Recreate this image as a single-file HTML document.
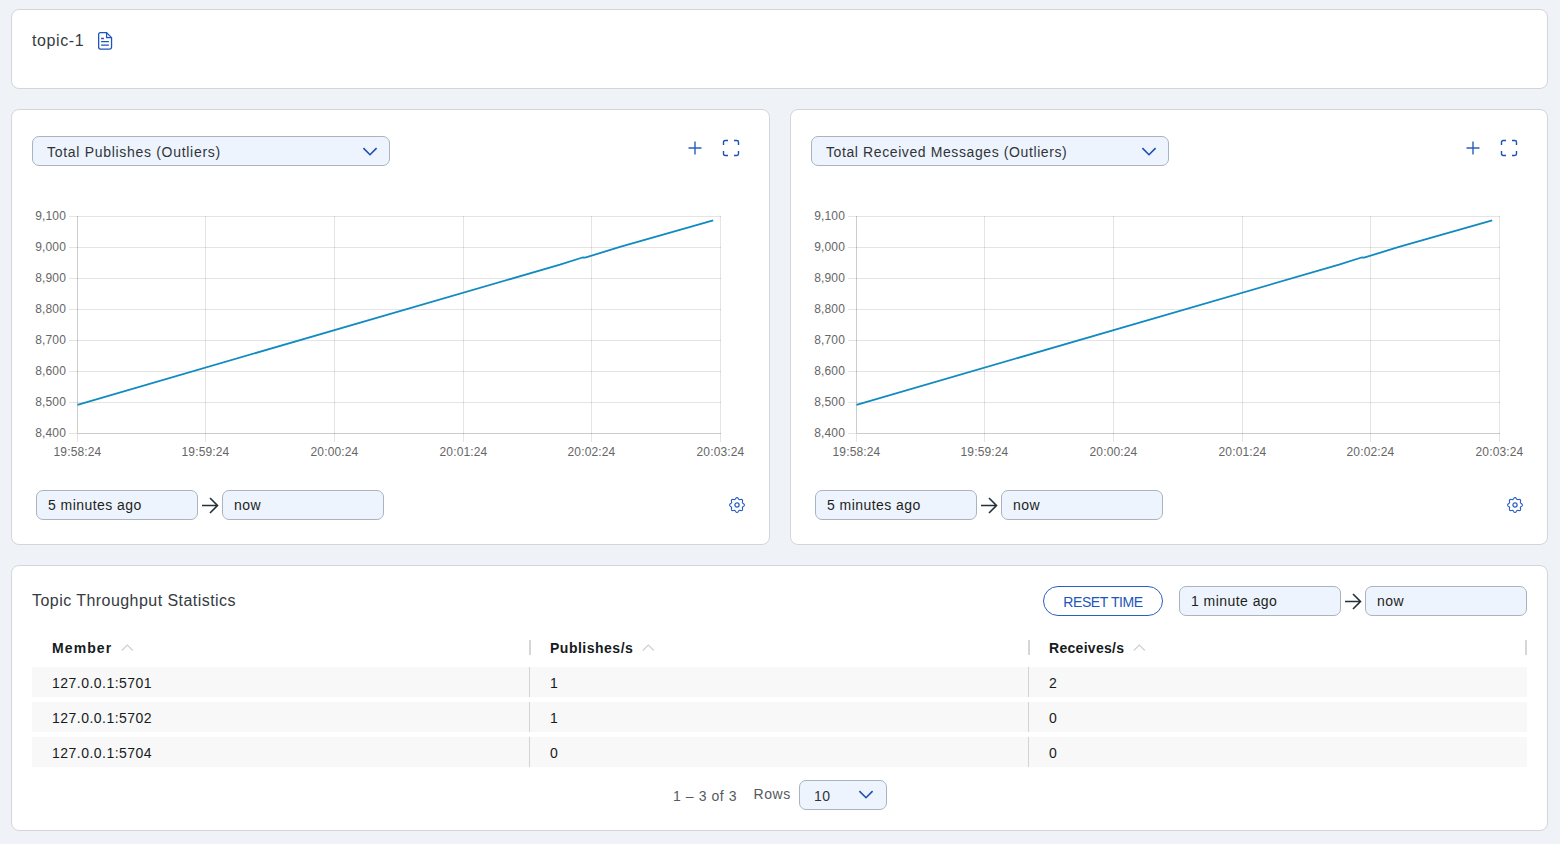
<!DOCTYPE html>
<html><head><meta charset="utf-8">
<style>
*{box-sizing:border-box;margin:0;padding:0}
html,body{width:1560px;height:844px;overflow:hidden;background:#eff2f7;font-family:"Liberation Sans",Arial,sans-serif;color:#1f2328}
.card{position:absolute;background:#fff;border:1px solid #d4d5d8;border-radius:8px}
.abs{position:absolute}
.sel{position:absolute;height:30px;background:#eef4fd;border:1px solid #aab4c0;border-radius:7px;font-size:14px;line-height:28px;color:#303438}
.inp{position:absolute;height:30px;background:#eef4fd;border:1px solid #aab4c0;border-radius:7px;font-size:14px;line-height:28px;color:#1c1f22;padding-left:11px;letter-spacing:0.45px}
.t{position:absolute;white-space:nowrap}
.row{position:absolute;left:20px;width:1495px;height:30px;background:#f8f8f8}
.cell{position:absolute;top:0;height:30px;line-height:32px;font-size:14px;color:#161b22;padding-left:20px;white-space:nowrap;letter-spacing:0.48px}
.rs{position:absolute;top:0;width:1px;height:30px;background:#d3d3d3}
.hd{position:absolute;font-size:14px;font-weight:bold;color:#161b22;white-space:nowrap}
.hs{position:absolute;width:2px;height:15px;background:#d6d6d6}
</style></head>
<body>

<!-- top card -->
<div class="card" style="left:11px;top:9px;width:1537px;height:80px">
  <div class="t" style="left:20px;top:22px;font-size:16px;letter-spacing:0.6px;color:#363b41">topic-1</div>
  <svg class="abs" style="left:86px;top:22px" width="16" height="20" viewBox="0 0 16 20">
    <path d="M2.4 0.65 H8.6 L13.55 5.6 V15.3 Q13.55 17.05 11.8 17.05 H2.4 Q0.65 17.05 0.65 15.3 V2.4 Q0.65 0.65 2.4 0.65 Z" fill="none" stroke="#1f55b9" stroke-width="1.3" stroke-linejoin="round"/>
    <path d="M8.6 0.65 V5.55 H13.55" fill="none" stroke="#1f55b9" stroke-width="1.3" stroke-linejoin="round"/>
    <path d="M3.1 6.5 H5.9 M3.1 9.7 H10.9 M3.1 13.1 H10.9" stroke="#1f55b9" stroke-width="1.3"/>
  </svg>
</div>

<!-- chart card left -->
<div class="card" style="left:11px;top:109px;width:759px;height:436px">
  <div class="sel" style="left:20px;top:26px;width:358px"><span style="position:absolute;left:14px;top:1px;letter-spacing:0.7px">Total Publishes (Outliers)</span>
    <svg class="abs" style="left:329px;top:10px" width="16" height="9" viewBox="0 0 16 9"><path d="M1.4 1.1 L8 7.7 L14.6 1.1" fill="none" stroke="#1d50b4" stroke-width="1.6"/></svg>
  </div>
  <svg class="abs" style="left:675px;top:30px" width="16" height="16" viewBox="0 0 16 16"><path d="M8 1.5 V14.5 M1.5 8 H14.5" stroke="#2a5fbf" stroke-width="1.4"/></svg>
  <svg class="abs" style="left:710px;top:29px" width="18" height="18" viewBox="0 0 18 18"><path d="M1.5 6 V3.2 Q1.5 1.5 3.2 1.5 H6 M12 1.5 H14.8 Q16.5 1.5 16.5 3.2 V6 M16.5 12 V14.8 Q16.5 16.5 14.8 16.5 H12 M6 16.5 H3.2 Q1.5 16.5 1.5 14.8 V12" fill="none" stroke="#1d50b4" stroke-width="1.4"/></svg>
  <svg class="abs" style="left:-12px;top:-110px" width="780" height="480" viewBox="0 0 780 480" id="chartL"><g font-family="Liberation Sans, Arial, sans-serif" font-size="12" letter-spacing="0.15" fill="#666"><path d="M69 216.5H721" stroke="rgba(0,0,0,0.105)" stroke-width="1"/><path d="M69 247.5H721" stroke="rgba(0,0,0,0.105)" stroke-width="1"/><path d="M69 278.5H721" stroke="rgba(0,0,0,0.105)" stroke-width="1"/><path d="M69 309.5H721" stroke="rgba(0,0,0,0.105)" stroke-width="1"/><path d="M69 340.5H721" stroke="rgba(0,0,0,0.105)" stroke-width="1"/><path d="M69 371.5H721" stroke="rgba(0,0,0,0.105)" stroke-width="1"/><path d="M69 402.5H721" stroke="rgba(0,0,0,0.105)" stroke-width="1"/><path d="M69 433.5H721" stroke="rgba(0,0,0,0.105)" stroke-width="1"/><path d="M77.5 216V442" stroke="rgba(0,0,0,0.105)" stroke-width="1"/><path d="M205.5 216V442" stroke="rgba(0,0,0,0.105)" stroke-width="1"/><path d="M334.5 216V442" stroke="rgba(0,0,0,0.105)" stroke-width="1"/><path d="M463.5 216V442" stroke="rgba(0,0,0,0.105)" stroke-width="1"/><path d="M591.5 216V442" stroke="rgba(0,0,0,0.105)" stroke-width="1"/><path d="M720.5 216V442" stroke="rgba(0,0,0,0.105)" stroke-width="1"/><path d="M77.5 216V433M78 433.5H721" stroke="rgba(0,0,0,0.1)" stroke-width="1"/><text x="66" y="220" text-anchor="end">9,100</text><text x="66" y="251" text-anchor="end">9,000</text><text x="66" y="282" text-anchor="end">8,900</text><text x="66" y="313" text-anchor="end">8,800</text><text x="66" y="344" text-anchor="end">8,700</text><text x="66" y="375" text-anchor="end">8,600</text><text x="66" y="406" text-anchor="end">8,500</text><text x="66" y="437" text-anchor="end">8,400</text><text x="77.5" y="456" text-anchor="middle">19:58:24</text><text x="205.5" y="456" text-anchor="middle">19:59:24</text><text x="334.5" y="456" text-anchor="middle">20:00:24</text><text x="463.5" y="456" text-anchor="middle">20:01:24</text><text x="591.5" y="456" text-anchor="middle">20:02:24</text><text x="720.5" y="456" text-anchor="middle">20:03:24</text><polyline points="77.5,404.8 560,264.6 582.5,257.5 585,257.7 620,246.9 713.2,220.4" fill="none" stroke="#108ac0" stroke-width="1.8" stroke-linejoin="round"/></g></svg>
  <div class="inp" style="left:24px;top:380px;width:162px">5 minutes ago</div>
  <svg class="abs" style="left:189px;top:387px" width="18" height="17" viewBox="0 0 18 17"><path d="M1 8.5 H16.5 M9 1 L16.5 8.5 L9 16" fill="none" stroke="#263038" stroke-width="1.6"/></svg>
  <div class="inp" style="left:210px;top:380px;width:162px">now</div>
  <svg class="abs" style="left:716px;top:386px" width="18" height="18" viewBox="0 0 18 18" id="gearL"><path d="M9.00,1.60 L9.29,1.64 L9.57,1.77 L9.83,1.96 L10.08,2.20 L10.30,2.48 L10.50,2.76 L10.69,3.02 L10.87,3.25 L11.05,3.43 L11.26,3.55 L11.49,3.61 L11.74,3.62 L12.03,3.58 L12.35,3.53 L12.69,3.47 L13.04,3.43 L13.39,3.43 L13.71,3.48 L14.00,3.59 L14.23,3.77 L14.41,4.00 L14.52,4.29 L14.57,4.61 L14.57,4.96 L14.53,5.31 L14.47,5.65 L14.42,5.97 L14.38,6.26 L14.39,6.51 L14.45,6.74 L14.57,6.95 L14.75,7.13 L14.98,7.31 L15.24,7.50 L15.52,7.70 L15.80,7.92 L16.04,8.17 L16.23,8.43 L16.36,8.71 L16.40,9.00 L16.36,9.29 L16.23,9.57 L16.04,9.83 L15.80,10.08 L15.52,10.30 L15.24,10.50 L14.98,10.69 L14.75,10.87 L14.57,11.05 L14.45,11.26 L14.39,11.49 L14.38,11.74 L14.42,12.03 L14.47,12.35 L14.53,12.69 L14.57,13.04 L14.57,13.39 L14.52,13.71 L14.41,14.00 L14.23,14.23 L14.00,14.41 L13.71,14.52 L13.39,14.57 L13.04,14.57 L12.69,14.53 L12.35,14.47 L12.03,14.42 L11.74,14.38 L11.49,14.39 L11.26,14.45 L11.05,14.57 L10.87,14.75 L10.69,14.98 L10.50,15.24 L10.30,15.52 L10.08,15.80 L9.83,16.04 L9.57,16.23 L9.29,16.36 L9.00,16.40 L8.71,16.36 L8.43,16.23 L8.17,16.04 L7.92,15.80 L7.70,15.52 L7.50,15.24 L7.31,14.98 L7.13,14.75 L6.95,14.57 L6.74,14.45 L6.51,14.39 L6.26,14.38 L5.97,14.42 L5.65,14.47 L5.31,14.53 L4.96,14.57 L4.61,14.57 L4.29,14.52 L4.00,14.41 L3.77,14.23 L3.59,14.00 L3.48,13.71 L3.43,13.39 L3.43,13.04 L3.47,12.69 L3.53,12.35 L3.58,12.03 L3.62,11.74 L3.61,11.49 L3.55,11.26 L3.43,11.05 L3.25,10.87 L3.02,10.69 L2.76,10.50 L2.48,10.30 L2.20,10.08 L1.96,9.83 L1.77,9.57 L1.64,9.29 L1.60,9.00 L1.64,8.71 L1.77,8.43 L1.96,8.17 L2.20,7.92 L2.48,7.70 L2.76,7.50 L3.02,7.31 L3.25,7.13 L3.43,6.95 L3.55,6.74 L3.61,6.51 L3.62,6.26 L3.58,5.97 L3.53,5.65 L3.47,5.31 L3.43,4.96 L3.43,4.61 L3.48,4.29 L3.59,4.00 L3.77,3.77 L4.00,3.59 L4.29,3.48 L4.61,3.43 L4.96,3.43 L5.31,3.47 L5.65,3.53 L5.97,3.58 L6.26,3.62 L6.51,3.61 L6.74,3.55 L6.95,3.43 L7.13,3.25 L7.31,3.02 L7.50,2.76 L7.70,2.48 L7.92,2.20 L8.17,1.96 L8.43,1.77 L8.71,1.64 L9.00,1.60Z" fill="none" stroke="#2a5fbf" stroke-width="1.15"/><circle cx="9" cy="9" r="2.1" fill="none" stroke="#2a5fbf" stroke-width="1.25"/></svg>
</div>

<!-- chart card right -->
<div class="card" style="left:790px;top:109px;width:758px;height:436px">
  <div class="sel" style="left:20px;top:26px;width:358px"><span style="position:absolute;left:14px;top:1px;letter-spacing:0.6px">Total Received Messages (Outliers)</span>
    <svg class="abs" style="left:329px;top:10px" width="16" height="9" viewBox="0 0 16 9"><path d="M1.4 1.1 L8 7.7 L14.6 1.1" fill="none" stroke="#1d50b4" stroke-width="1.6"/></svg>
  </div>
  <svg class="abs" style="left:674px;top:30px" width="16" height="16" viewBox="0 0 16 16"><path d="M8 1.5 V14.5 M1.5 8 H14.5" stroke="#2a5fbf" stroke-width="1.4"/></svg>
  <svg class="abs" style="left:709px;top:29px" width="18" height="18" viewBox="0 0 18 18"><path d="M1.5 6 V3.2 Q1.5 1.5 3.2 1.5 H6 M12 1.5 H14.8 Q16.5 1.5 16.5 3.2 V6 M16.5 12 V14.8 Q16.5 16.5 14.8 16.5 H12 M6 16.5 H3.2 Q1.5 16.5 1.5 14.8 V12" fill="none" stroke="#1d50b4" stroke-width="1.4"/></svg>
  <svg class="abs" style="left:-12px;top:-110px" width="780" height="480" viewBox="0 0 780 480" id="chartR"><g font-family="Liberation Sans, Arial, sans-serif" font-size="12" letter-spacing="0.15" fill="#666"><path d="M69 216.5H721" stroke="rgba(0,0,0,0.105)" stroke-width="1"/><path d="M69 247.5H721" stroke="rgba(0,0,0,0.105)" stroke-width="1"/><path d="M69 278.5H721" stroke="rgba(0,0,0,0.105)" stroke-width="1"/><path d="M69 309.5H721" stroke="rgba(0,0,0,0.105)" stroke-width="1"/><path d="M69 340.5H721" stroke="rgba(0,0,0,0.105)" stroke-width="1"/><path d="M69 371.5H721" stroke="rgba(0,0,0,0.105)" stroke-width="1"/><path d="M69 402.5H721" stroke="rgba(0,0,0,0.105)" stroke-width="1"/><path d="M69 433.5H721" stroke="rgba(0,0,0,0.105)" stroke-width="1"/><path d="M77.5 216V442" stroke="rgba(0,0,0,0.105)" stroke-width="1"/><path d="M205.5 216V442" stroke="rgba(0,0,0,0.105)" stroke-width="1"/><path d="M334.5 216V442" stroke="rgba(0,0,0,0.105)" stroke-width="1"/><path d="M463.5 216V442" stroke="rgba(0,0,0,0.105)" stroke-width="1"/><path d="M591.5 216V442" stroke="rgba(0,0,0,0.105)" stroke-width="1"/><path d="M720.5 216V442" stroke="rgba(0,0,0,0.105)" stroke-width="1"/><path d="M77.5 216V433M78 433.5H721" stroke="rgba(0,0,0,0.1)" stroke-width="1"/><text x="66" y="220" text-anchor="end">9,100</text><text x="66" y="251" text-anchor="end">9,000</text><text x="66" y="282" text-anchor="end">8,900</text><text x="66" y="313" text-anchor="end">8,800</text><text x="66" y="344" text-anchor="end">8,700</text><text x="66" y="375" text-anchor="end">8,600</text><text x="66" y="406" text-anchor="end">8,500</text><text x="66" y="437" text-anchor="end">8,400</text><text x="77.5" y="456" text-anchor="middle">19:58:24</text><text x="205.5" y="456" text-anchor="middle">19:59:24</text><text x="334.5" y="456" text-anchor="middle">20:00:24</text><text x="463.5" y="456" text-anchor="middle">20:01:24</text><text x="591.5" y="456" text-anchor="middle">20:02:24</text><text x="720.5" y="456" text-anchor="middle">20:03:24</text><polyline points="77.5,404.8 560,264.6 582.5,257.5 585,257.7 620,246.9 713.2,220.4" fill="none" stroke="#108ac0" stroke-width="1.8" stroke-linejoin="round"/></g></svg>
  <div class="inp" style="left:24px;top:380px;width:162px">5 minutes ago</div>
  <svg class="abs" style="left:189px;top:387px" width="18" height="17" viewBox="0 0 18 17"><path d="M1 8.5 H16.5 M9 1 L16.5 8.5 L9 16" fill="none" stroke="#263038" stroke-width="1.6"/></svg>
  <div class="inp" style="left:210px;top:380px;width:162px">now</div>
  <svg class="abs" style="left:715px;top:386px" width="18" height="18" viewBox="0 0 18 18" id="gearR"><path d="M9.00,1.60 L9.29,1.64 L9.57,1.77 L9.83,1.96 L10.08,2.20 L10.30,2.48 L10.50,2.76 L10.69,3.02 L10.87,3.25 L11.05,3.43 L11.26,3.55 L11.49,3.61 L11.74,3.62 L12.03,3.58 L12.35,3.53 L12.69,3.47 L13.04,3.43 L13.39,3.43 L13.71,3.48 L14.00,3.59 L14.23,3.77 L14.41,4.00 L14.52,4.29 L14.57,4.61 L14.57,4.96 L14.53,5.31 L14.47,5.65 L14.42,5.97 L14.38,6.26 L14.39,6.51 L14.45,6.74 L14.57,6.95 L14.75,7.13 L14.98,7.31 L15.24,7.50 L15.52,7.70 L15.80,7.92 L16.04,8.17 L16.23,8.43 L16.36,8.71 L16.40,9.00 L16.36,9.29 L16.23,9.57 L16.04,9.83 L15.80,10.08 L15.52,10.30 L15.24,10.50 L14.98,10.69 L14.75,10.87 L14.57,11.05 L14.45,11.26 L14.39,11.49 L14.38,11.74 L14.42,12.03 L14.47,12.35 L14.53,12.69 L14.57,13.04 L14.57,13.39 L14.52,13.71 L14.41,14.00 L14.23,14.23 L14.00,14.41 L13.71,14.52 L13.39,14.57 L13.04,14.57 L12.69,14.53 L12.35,14.47 L12.03,14.42 L11.74,14.38 L11.49,14.39 L11.26,14.45 L11.05,14.57 L10.87,14.75 L10.69,14.98 L10.50,15.24 L10.30,15.52 L10.08,15.80 L9.83,16.04 L9.57,16.23 L9.29,16.36 L9.00,16.40 L8.71,16.36 L8.43,16.23 L8.17,16.04 L7.92,15.80 L7.70,15.52 L7.50,15.24 L7.31,14.98 L7.13,14.75 L6.95,14.57 L6.74,14.45 L6.51,14.39 L6.26,14.38 L5.97,14.42 L5.65,14.47 L5.31,14.53 L4.96,14.57 L4.61,14.57 L4.29,14.52 L4.00,14.41 L3.77,14.23 L3.59,14.00 L3.48,13.71 L3.43,13.39 L3.43,13.04 L3.47,12.69 L3.53,12.35 L3.58,12.03 L3.62,11.74 L3.61,11.49 L3.55,11.26 L3.43,11.05 L3.25,10.87 L3.02,10.69 L2.76,10.50 L2.48,10.30 L2.20,10.08 L1.96,9.83 L1.77,9.57 L1.64,9.29 L1.60,9.00 L1.64,8.71 L1.77,8.43 L1.96,8.17 L2.20,7.92 L2.48,7.70 L2.76,7.50 L3.02,7.31 L3.25,7.13 L3.43,6.95 L3.55,6.74 L3.61,6.51 L3.62,6.26 L3.58,5.97 L3.53,5.65 L3.47,5.31 L3.43,4.96 L3.43,4.61 L3.48,4.29 L3.59,4.00 L3.77,3.77 L4.00,3.59 L4.29,3.48 L4.61,3.43 L4.96,3.43 L5.31,3.47 L5.65,3.53 L5.97,3.58 L6.26,3.62 L6.51,3.61 L6.74,3.55 L6.95,3.43 L7.13,3.25 L7.31,3.02 L7.50,2.76 L7.70,2.48 L7.92,2.20 L8.17,1.96 L8.43,1.77 L8.71,1.64 L9.00,1.60Z" fill="none" stroke="#2a5fbf" stroke-width="1.15"/><circle cx="9" cy="9" r="2.1" fill="none" stroke="#2a5fbf" stroke-width="1.25"/></svg>
</div>

<!-- table card -->
<div class="card" style="left:11px;top:565px;width:1537px;height:266px">
  <div class="t" style="left:20px;top:26px;font-size:16px;letter-spacing:0.45px;color:#363b41">Topic Throughput Statistics</div>
  <div class="abs" style="left:1031px;top:20px;width:120px;height:30px;border:1.3px solid #2b5fbd;border-radius:15px;color:#2156b8;font-size:14px;line-height:30px;letter-spacing:-0.4px;text-align:center">RESET TIME</div>
  <div class="inp" style="left:1167px;top:20px;width:162px">1 minute ago</div>
  <svg class="abs" style="left:1332px;top:27px" width="18" height="17" viewBox="0 0 18 17"><path d="M1 8.5 H16.5 M9 1 L16.5 8.5 L9 16" fill="none" stroke="#263038" stroke-width="1.6"/></svg>
  <div class="inp" style="left:1353px;top:20px;width:162px">now</div>

  <div class="hd" style="left:40px;top:74px;letter-spacing:1.1px">Member</div>
  <div class="hd" style="left:538px;top:74px;letter-spacing:0.5px">Publishes/s</div>
  <div class="hd" style="left:1037px;top:74px;letter-spacing:0.3px">Receives/s</div>

  <svg class="abs" style="left:108.5px;top:77.5px" width="13" height="8" viewBox="0 0 13 8"><path d="M0.8 6.5 L6.3 1 L11.8 6.5" fill="none" stroke="#cfcfcf" stroke-width="1.1"/></svg>
  <svg class="abs" style="left:629.5px;top:77.5px" width="13" height="8" viewBox="0 0 13 8"><path d="M0.8 6.5 L6.3 1 L11.8 6.5" fill="none" stroke="#cfcfcf" stroke-width="1.1"/></svg>
  <svg class="abs" style="left:1120.5px;top:77.5px" width="13" height="8" viewBox="0 0 13 8"><path d="M0.8 6.5 L6.3 1 L11.8 6.5" fill="none" stroke="#cfcfcf" stroke-width="1.1"/></svg>
  <div class="hs" style="left:517px;top:74px"></div>
  <div class="hs" style="left:1016px;top:74px"></div>
  <div class="hs" style="left:1513px;top:74px"></div>

  <div class="row" style="top:101px"><div class="cell" style="left:0">127.0.0.1:5701</div><div class="rs" style="left:497px"></div><div class="cell" style="left:498px">1</div><div class="rs" style="left:996px"></div><div class="cell" style="left:997px">2</div></div>
  <div class="row" style="top:136px"><div class="cell" style="left:0">127.0.0.1:5702</div><div class="rs" style="left:497px"></div><div class="cell" style="left:498px">1</div><div class="rs" style="left:996px"></div><div class="cell" style="left:997px">0</div></div>
  <div class="row" style="top:171px"><div class="cell" style="left:0">127.0.0.1:5704</div><div class="rs" style="left:497px"></div><div class="cell" style="left:498px">0</div><div class="rs" style="left:996px"></div><div class="cell" style="left:997px">0</div></div>

  <div class="t" style="left:661px;top:222px;font-size:14px;letter-spacing:0.57px;color:#555a60">1 – 3 of 3</div>
  <div class="t" style="left:741.5px;top:220px;font-size:14px;letter-spacing:0.6px;color:#555a60">Rows</div>
  <div class="sel" style="left:787px;top:214px;width:88px"><span style="position:absolute;left:14px;top:1px;letter-spacing:0.5px;color:#303338">10</span>
    <svg class="abs" style="left:58px;top:9px" width="16" height="9" viewBox="0 0 16 9"><path d="M1.4 1.1 L8 7.7 L14.6 1.1" fill="none" stroke="#1d50b4" stroke-width="1.6"/></svg>
  </div>
</div>

</body></html>
